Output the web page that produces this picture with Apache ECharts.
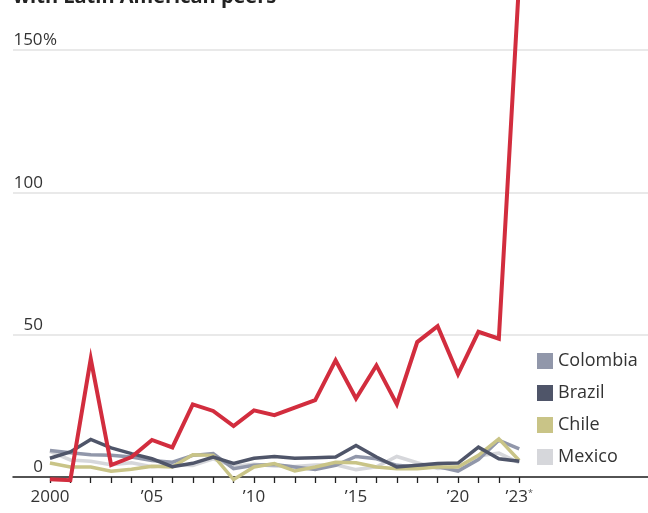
<!DOCTYPE html>
<html>
<head>
<meta charset="utf-8">
<script src="https://cdn.jsdelivr.net/npm/echarts@6/dist/echarts.min.js"></script>
<style>
  html, body { margin: 0; padding: 0; background: #fff; }
  #chart { width: 648px; height: 513px; }
</style>
</head>
<body>
<div id="chart"></div>
<script>
var years = [2000, 2001, 2002, 2003, 2004, 2005, 2006, 2007, 2008, 2009, 2010, 2011,
             2012, 2013, 2014, 2015, 2016, 2017, 2018, 2019, 2020, 2021, 2022, 2023];
var argentina = [-0.8, -1.1, 41.5, 4.2, 7.0, 13.0, 10.4, 25.5, 23.2, 17.9, 23.4, 21.7,
                 24.4, 27.0, 41.0, 27.6, 39.2, 25.6, 47.4, 53.0, 36.1, 51.0, 48.6, 175];
var colombia = [9.3, 8.5, 7.8, 7.6, 7.0, 5.8, 5.2, 7.6, 8.2, 2.9, 4.1, 4.4,
                3.5, 2.6, 4.1, 7.2, 6.4, 4.1, 3.5, 3.7, 2.1, 6.1, 12.9, 9.9];
var brazil = [6.6, 8.8, 13.2, 10.2, 8.2, 6.4, 3.6, 4.8, 7.0, 4.8, 6.6, 7.2,
              6.6, 6.8, 7.0, 11.1, 7.0, 3.5, 4.1, 4.7, 4.9, 10.5, 6.4, 5.5];
var chile = [4.9, 3.5, 3.5, 2.0, 2.7, 3.8, 3.5, 7.8, 7.6, -0.9, 3.5, 4.7,
             2.1, 3.5, 5.2, 5.0, 3.5, 2.9, 2.9, 3.5, 3.5, 7.6, 13.4, 5.8];
var mexico = [9.0, 6.0, 5.5, 4.3, 5.0, 3.6, 4.2, 4.0, 6.4, 3.8, 4.5, 3.9,
              3.7, 4.2, 4.3, 2.6, 3.6, 7.2, 5.0, 3.0, 3.4, 7.4, 8.4, 5.0];
var xLabelYears = [2000, 2005, 2010, 2015, 2020, 2023];
var yTicks = [0, 50, 100, 150];

var font = '"Open Sans", "Noto Sans", sans-serif';

function pairs(vals) {
    var out = [];
    for (var i = 0; i < years.length; i++) {
        out.push([years[i], vals[i]]);
    }
    return out;
}

function line(name, vals, color, width) {
    return {
        name: name,
        type: 'line',
        data: pairs(vals),
        symbol: 'none',
        clip: false,
        color: color,
        lineStyle: { color: color, width: width, join: 'miter' },
        emphasis: { disabled: true }
    };
}

var chart = echarts.init(document.getElementById('chart'));
chart.setOption({
    animation: false,
    title: {
        text: 'with Latin American peers',
        left: 13,
        top: -13,
        padding: 0,
        textStyle: { fontFamily: font, fontSize: 20, fontWeight: 'bold', color: '#222' }
    },
    legend: {
        data: ['Colombia', 'Brazil', 'Chile', 'Mexico'],
        orient: 'vertical',
        left: 537,
        top: 352,
        padding: 0,
        itemGap: 14,
        itemWidth: 16,
        itemHeight: 16,
        icon: 'rect',
        selectedMode: false,
        textStyle: { fontFamily: font, fontSize: 18, color: '#333' }
    },
    grid: { left: 13, right: 0, top: 50, bottom: 36, containLabel: false },
    xAxis: {
        type: 'value',
        min: 1998.19,
        max: 2029.31,
        axisLine: { onZero: true, lineStyle: { color: '#222', width: 1.5 } },
        axisTick: { show: true, length: 6, customValues: years, lineStyle: { color: '#222', width: 1.3 } },
        axisLabel: {
            customValues: xLabelYears,
            margin: 12,
            fontFamily: font,
            fontSize: 17,
            color: '#333',
            formatter: function (v) {
                if (v === 2000) return '2000';
                var s = '\u2019' + String(v).slice(2);
                return v === 2023 ? s + '{s|*}' : s;
            },
            rich: { s: { fontFamily: font, fontSize: 9, color: '#555', verticalAlign: 'top', padding: [0, 0, 8, 0] } }
        },
        splitLine: { show: false }
    },
    yAxis: {
        type: 'value',
        min: 0,
        max: 150,
        interval: 50,
        axisLine: { show: false },
        axisTick: { show: false },
        axisLabel: {
            inside: true,
            margin: 0,
            align: 'left',
            verticalAlign: 'bottom',
            padding: [0, 0, 1, 0],
            fontFamily: font,
            fontSize: 17,
            color: '#333',
            formatter: function (v) {
                if (yTicks.indexOf(v) < 0) return '';
                return '{n|' + v + '}' + (v === 150 ? '%' : '');
            },
            rich: { n: { fontFamily: font, fontSize: 17, color: '#333', width: 30, align: 'right' } }
        },
        splitLine: { lineStyle: { color: '#e2e2e2', width: 1.5 } }
    },
    series: [
        line('Mexico', mexico, '#d6d7db', 3.5),
        line('Colombia', colombia, '#9197aa', 3.5),
        line('Chile', chile, '#c9c487', 3.5),
        line('Brazil', brazil, '#4f5569', 3.5),
        line('Argentina', argentina, '#d22d3e', 4)
    ]
});
</script>
</body>
</html>
